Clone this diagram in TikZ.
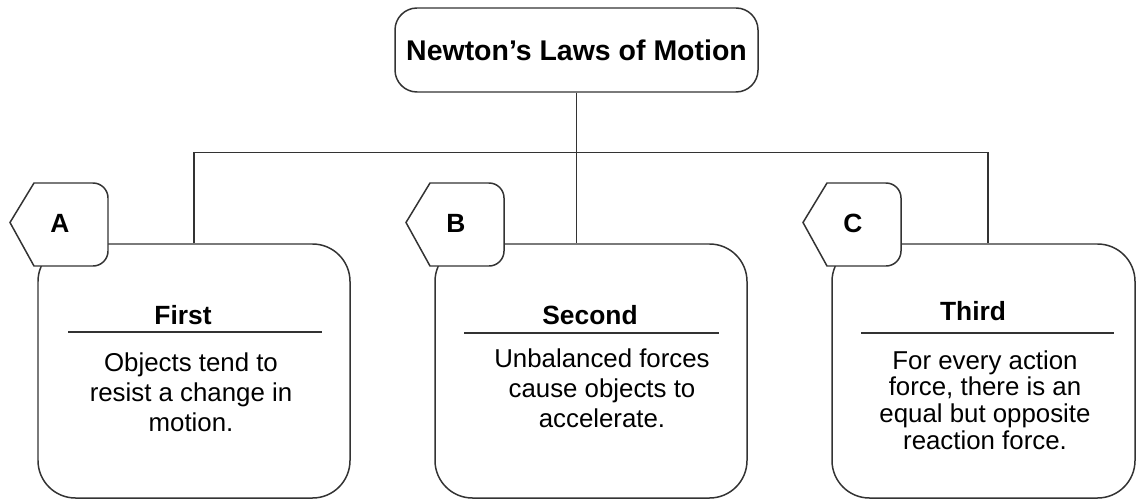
\documentclass[tikz,border=0pt]{standalone}
\usepackage{fontspec}
\setmainfont{Liberation Sans}
\begin{document}
\begin{tikzpicture}[
    title/.style={draw=black!80, line width=0.85pt, rounded corners=0.44cm, minimum width=7.26cm, minimum height=1.68cm, font=\fontsize{16.2}{19}\selectfont\bfseries},
    law/.style={draw=black!80, line width=0.85pt, rounded corners=0.75cm, minimum width=6.24cm, minimum height=5.08cm},
    tag/.style={draw=black!80, fill=white, line width=0.85pt},
    letter/.style={font=\fontsize{15}{18}\selectfont\bfseries},
    head/.style={font=\fontsize{15}{18}\selectfont\bfseries},
    body/.style={align=center, font=\fontsize{14.7}{17}\selectfont},
    rule/.style={draw=black!80, line width=0.85pt},
    link/.style={draw=black!80, line width=0.85pt},
]
\useasboundingbox (0,0) rectangle (22.72,-10.02);
\node[title] (title) at (11.53,-1.0) {Newton’s Laws of Motion};
\node[law] (lawA) at (3.88,-7.42) {};
\node[law] (lawB) at (11.82,-7.42) {};
\node[law, minimum width=6.06cm] (lawC) at (19.67,-7.42) {};
\coordinate (split) at ([yshift=-1.2cm]title.south);
\coordinate (dropC) at ([xshift=0.09cm]lawC.north);
\draw[link] (title.south) -- (title.south |- lawB.north);
\draw[link] (lawA.north) |- (split) -| (dropC);
% tabs on the corners
\foreach \x/\l in {0.2/A, 8.12/B, 16.06/C}{
  \filldraw[tag] (\x,-4.45) -- (\x+0.48,-3.66) -- (\x+1.66,-3.66) arc (90:0:0.3)
    -- (\x+1.96,-5.02) arc (0:-90:0.3) -- (\x+0.48,-5.32) -- cycle;
  \node[letter] (tag\l) at (\x+1.0,-4.46) {\l};
}
\node[head] (headA) at (3.66,-6.30) {First};
\node[head] (headB) at (11.80,-6.30) {Second};
\node[head] (headC) at (19.46,-6.22) {Third};
\draw[rule] (1.36,-6.64) -- (6.44,-6.64);
\draw[rule] (9.28,-6.66) -- (14.38,-6.66);
\draw[rule] (17.22,-6.66) -- (22.28,-6.66);
\node[body] (textA) at (3.82,-7.84) {Objects tend to\\resist a change in\\motion.};
\node[body] (textB) at (12.04,-7.76) {Unbalanced forces\\cause objects to\\accelerate.};
\node[body, font=\fontsize{14.7}{15.2}\selectfont] (textC) at (19.70,-8.0) {For every action\\force, there is an\\equal but opposite\\reaction force.};
\end{tikzpicture}
\end{document}
